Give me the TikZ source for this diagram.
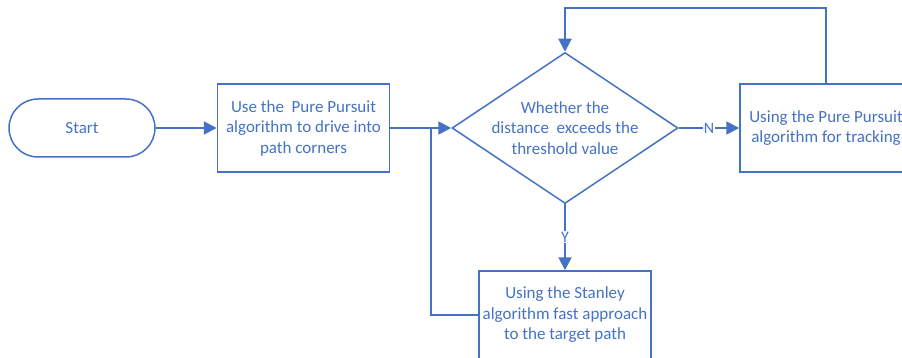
\documentclass[tikz,border=0pt]{standalone}
\usepackage{fontspec}
\setmainfont{Carlito}
\usetikzlibrary{arrows.meta,shapes.geometric}
\definecolor{fcblue}{HTML}{4472C4}
\tikzset{
  txt/.style={text=fcblue,align=center,font=\fontsize{17}{20.5}\selectfont},
  box/.style={draw=fcblue,line width=1.5pt,minimum width=172pt,minimum height=88pt,inner sep=0pt,txt},
  term/.style={draw=fcblue,line width=1.5pt,minimum width=146pt,minimum height=58pt,rounded corners=29pt,inner sep=0pt,txt},
  dec/.style={draw=fcblue,line width=1.5pt,diamond,minimum width=226pt,minimum height=151pt,inner sep=0pt},
  conn/.style={draw=fcblue,line width=2pt,-{Triangle[length=13pt,width=13pt]}},
  plain/.style={draw=fcblue,line width=2pt},
  lbl/.style={fill=white,text=fcblue,inner sep=1pt,font=\fontsize{16}{18}\selectfont}
}
\begin{document}
\begin{tikzpicture}[x=1pt,y=-1pt]
\useasboundingbox (0,0) rectangle (902,358);
\clip (0,0) rectangle (902,358);
\node[term] (start) at (82,128) {Start};
\node[box] (pp1) at (303.5,128) {Use the\ \ Pure Pursuit\\algorithm to drive into\\path corners};
\node[dec] (dec) at (565,128) {};
\node[txt] (dectext) at (dec.center) {Whether the\\distance\ \ exceeds the\\threshold value};
\node[box] (pp2) at (826,128) {Using the Pure Pursuit\\algorithm for tracking};
\node[box] (st) at (565,315) {Using the Stanley\\algorithm fast approach\\to the target path};
\coordinate (j) at (431,128);
\coordinate (top) at (565,8);
\draw[conn] (start.east) -- (pp1.west);
\draw[conn] (pp1.east) -- (dec.west);
\draw[conn] (dec.east) -- node[lbl] {N} (pp2.west);
\draw[conn] (dec.south) -- node[lbl] {Y} (st.north);
\draw[plain] (st.west) -| (j);
\draw[conn] (pp2.north) |- (top) -- (dec.north);
\end{tikzpicture}
\end{document}
